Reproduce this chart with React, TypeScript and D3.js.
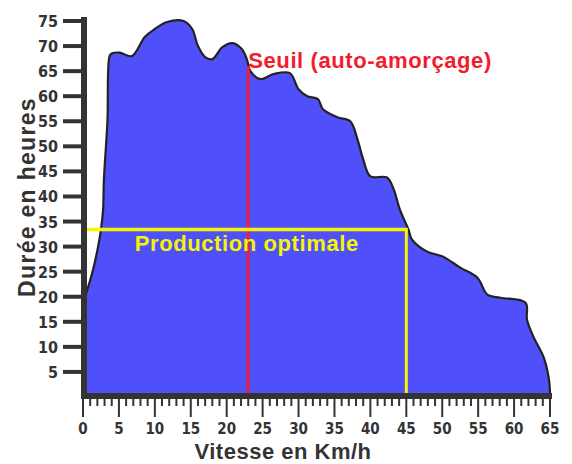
import * as d3 from 'd3';

// Courbe : durée (heures) en fonction de la vitesse du vent (km/h)
const vitesse = [0.3, 1.4, 2.1, 2.5, 2.8, 2.9, 3.4, 3.7, 4.0, 5.1, 6.8, 8.6, 10, 11.7, 14, 15.2, 16, 17, 18, 19.4, 20.8, 22.1, 22.8, 23.3, 24.7, 26.5, 28.8, 30, 31.2, 32.7, 33.4, 35.4, 37.2, 38.2, 39, 40, 42.3, 43.2, 44.1, 45.3, 45.8, 47.9, 50.1, 52.5, 54.9, 56.3, 58.1, 61.6, 61.8, 62.7, 64.1, 64.8, 65, 65];
const duree = [20, 25.4, 30, 33.4, 37.4, 43, 55, 68, 68.5, 68.7, 68, 71.8, 73.4, 74.8, 75, 73.4, 70, 67.8, 67.4, 69.8, 70.6, 69.4, 67.4, 65, 63.4, 64.4, 64.6, 61.4, 60, 59.4, 57.4, 55.8, 55, 51.4, 47.4, 44, 43.8, 41.6, 37.4, 33.4, 31.4, 29, 28, 25.8, 23.8, 20.4, 19.8, 18.8, 15.4, 12, 8, 4, 1, 0];

const yTicks = [5, 10, 15, 20, 25, 30, 35, 40, 45, 50, 55, 60, 65, 70, 75];
const xTicks = [0, 5, 10, 15, 20, 25, 30, 35, 40, 45, 50, 55, 60, 65];
const xMinorTicks = d3.range(0, 66, 1);

const seuil = { x: 23, y: 66 };
const optimal = { x: 45, y: 33.4 };

export default function App() {
  const width = 572;
  const height = 464;

  const x = d3.scaleLinear().domain([0, 65]).range([83, 550]);
  const y = d3.scaleLinear().domain([0, 75]).range([397, 21]);

  const points: [number, number][] = vitesse.map((v, i) => [v, duree[i]]);

  const curve = d3.curveCatmullRom.alpha(0.5);
  const area = d3
    .area<[number, number]>()
    .x((d) => x(d[0]))
    .y0(y(0))
    .y1((d) => y(d[1]))
    .curve(curve);
  const line = d3
    .line<[number, number]>()
    .x((d) => x(d[0]))
    .y((d) => y(d[1]))
    .curve(curve);

  const tickFont = "'Liberation Sans Narrow', 'DejaVu Sans Condensed', 'Liberation Sans', sans-serif";
  const boldFont = "'Liberation Sans', Arial, sans-serif";

  return (
    <svg
      width={width}
      height={height}
      style={{ position: 'absolute', left: 0, top: 0, background: '#fff' }}
    >
      {/* aire */}
      <path d={area(points) || ''} fill="#5050fb" />
      <path d={line(points) || ''} fill="none" stroke="#222" strokeWidth={2.2} strokeLinejoin="round" />

      {/* seuil */}
      <line x1={x(seuil.x)} x2={x(seuil.x)} y1={y(seuil.y)} y2={y(0)} stroke="#e8203c" strokeWidth={3} />
      <text
        x={x(seuil.x)}
        y={y(seuil.y) + 2}
        fill="#f21c2c"
        fontFamily={boldFont}
        fontWeight="bold"
        fontSize={22}
        letterSpacing={0.6}
      >
        Seuil (auto-amorçage)
      </text>

      {/* production optimale */}
      <line x1={x(0)} x2={x(optimal.x) + 1.5} y1={y(optimal.y)} y2={y(optimal.y)} stroke="#f5f500" strokeWidth={3.5} />
      <line x1={x(optimal.x)} x2={x(optimal.x)} y1={y(optimal.y)} y2={y(0)} stroke="#f5f500" strokeWidth={3} />
      <text
        x={x(7.2)}
        y={y(optimal.y) + 21}
        fill="#f5f500"
        fontFamily={boldFont}
        fontWeight="bold"
        fontSize={22}
        letterSpacing={0.6}
      >
        Production optimale
      </text>

      {/* axe y */}
      <line x1={84} x2={84} y1={17} y2={399} stroke="#333" strokeWidth={6} />
      {yTicks.map((t) => (
        <g key={t}>
          <line x1={63} x2={84} y1={y(t)} y2={y(t)} stroke="#333" strokeWidth={4} />
          <text
            x={58}
            y={y(t) + 6}
            textAnchor="end"
            fill="#333"
            fontFamily={tickFont}
            fontWeight="bold"
            fontSize={16}
          >
            {t}
          </text>
        </g>
      ))}

      {/* axe x */}
      <line x1={81} x2={552} y1={396} y2={396} stroke="#333" strokeWidth={6} />
      {xMinorTicks.map((t) => (
        <line
          key={t}
          x1={x(t)}
          x2={x(t)}
          y1={398}
          y2={t % 5 === 0 ? 417 : 406}
          stroke="#333"
          strokeWidth={2}
        />
      ))}
      {xTicks.map((t) => (
        <text
          key={t}
          x={x(t)}
          y={434}
          textAnchor="middle"
          fill="#333"
          fontFamily={tickFont}
          fontWeight="bold"
          fontSize={15}
        >
          {t}
        </text>
      ))}

      {/* titres */}
      <text
        x={283}
        y={459}
        textAnchor="middle"
        fill="#333"
        fontFamily={boldFont}
        fontWeight="bold"
        fontSize={22}
        letterSpacing={0.5}
      >
        Vitesse en Km/h
      </text>
      <text
        transform="translate(35,197) rotate(-90)"
        textAnchor="middle"
        fill="#333"
        fontFamily={boldFont}
        fontWeight="bold"
        fontSize={23}
        letterSpacing={1.3}
      >
        Durée en heures
      </text>
    </svg>
  );
}
